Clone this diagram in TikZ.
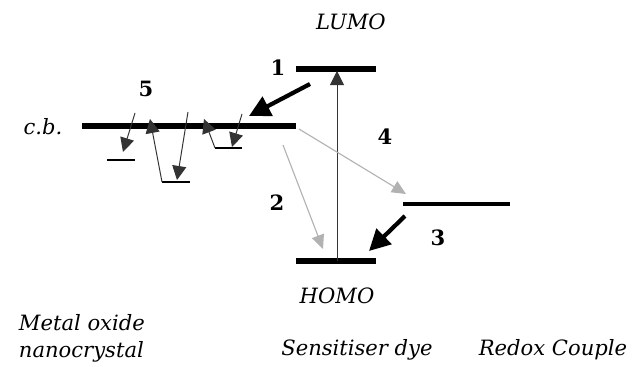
\documentclass[tikz,border=0pt]{standalone}
\usepackage{fontspec}
\setmainfont{DejaVu Serif}
\usepackage{tikz}
\usetikzlibrary{arrows.meta}

\begin{document}
\begin{tikzpicture}[x=0.025cm, y=-0.025cm,
  lvl/.style={line width=3.6pt},
  redox/.style={line width=2.4pt},
  trapline/.style={line width=0.9pt},
  hop/.style={-{Triangle[length=10pt, width=10pt]}, line width=0.7pt, draw=black!80},
  loss/.style={-{Triangle[length=10pt, width=9pt]}, line width=0.8pt, draw=black!30},
  flow/.style={-{Triangle[length=15pt, width=15pt]}, line width=3pt},
  lbl/.style={font=\fontsize{15}{19}\selectfont\itshape},
  num/.style={font=\fontsize{15}{18}\selectfont\bfseries}
]
  \useasboundingbox (0,0) rectangle (640,367);

  % energy levels
  \coordinate (cbL)   at (82,126);  \coordinate (cbR)   at (296,126);
  \coordinate (lumoL) at (296,69);  \coordinate (lumoR) at (376,69);
  \coordinate (homoL) at (296,261); \coordinate (homoR) at (376,261);
  \coordinate (redL)  at (403,204); \coordinate (redR)  at (510,204);

  \draw[lvl]   (cbL)   -- (cbR);
  \draw[lvl]   (lumoL) -- (lumoR);
  \draw[lvl]   (homoL) -- (homoR);
  \draw[redox] (redL)  -- (redR);

  % trap states below c.b.
  \coordinate (t1L) at (107,160); \coordinate (t1R) at (135,160);
  \coordinate (t2L) at (162,182); \coordinate (t2R) at (190,182);
  \coordinate (t3L) at (215,148); \coordinate (t3R) at (242,148);
  \draw[trapline] (t1L) -- (t1R);
  \draw[trapline] (t2L) -- (t2R);
  \draw[trapline] (t3L) -- (t3R);

  \coordinate (d1) at (135,113); \coordinate (e1) at (123,152);
  \coordinate (d2) at (188,112); \coordinate (e2) at (177,180);
  \coordinate (d3) at (242,114); \coordinate (e3) at (232,147);
  \coordinate (u2) at (150,119); \coordinate (u3) at (204,119);

  \draw[hop] (d1)  -- (e1);
  \draw[hop] (d2)  -- (e2);
  \draw[hop] (d3)  -- (e3);
  \draw[hop] (t2L) -- (u2);
  \draw[hop] (t3L) -- (u3);

  % excitation, injection, regeneration
  \coordinate (exc0) at (337,261); \coordinate (exc1) at (337,71);
  \draw[hop] (exc0) -- (exc1);

  \coordinate (inj0) at (310,84);  \coordinate (inj1) at (249,116);
  \coordinate (reg0) at (405,216); \coordinate (reg1) at (369,251);
  \draw[flow] (inj0) -- (inj1);
  \draw[flow] (reg0) -- (reg1);

  % recombination
  \coordinate (rec0) at (299,129); \coordinate (rec1) at (406,194);
  \coordinate (dec0) at (283,145); \coordinate (dec1) at (323,249);
  \draw[loss] (rec0) -- (rec1);
  \draw[loss] (dec0) -- (dec1);

  % labels
  \node[lbl] (lumo) at (351,22)  {LUMO};
  \node[lbl] (homo) at (337,296) {HOMO};
  \node[lbl] (cb)   at (43,127)  {c.b.};
  \node[num] (n1)   at (278,68)  {1};
  \node[num] (n2)   at (277,203) {2};
  \node[num] (n3)   at (438,238) {3};
  \node[num] (n4)   at (385,137) {4};
  \node[num] (n5)   at (146,89)  {5};

  \node[lbl, align=left, anchor=west] (oxide) at (14,338) {Metal oxide\\nanocrystal};
  \node[lbl] (dye)   at (357,350) {Sensitiser dye};
  \node[lbl] (redx)  at (553,350) {Redox Couple};
\end{tikzpicture}
\end{document}
